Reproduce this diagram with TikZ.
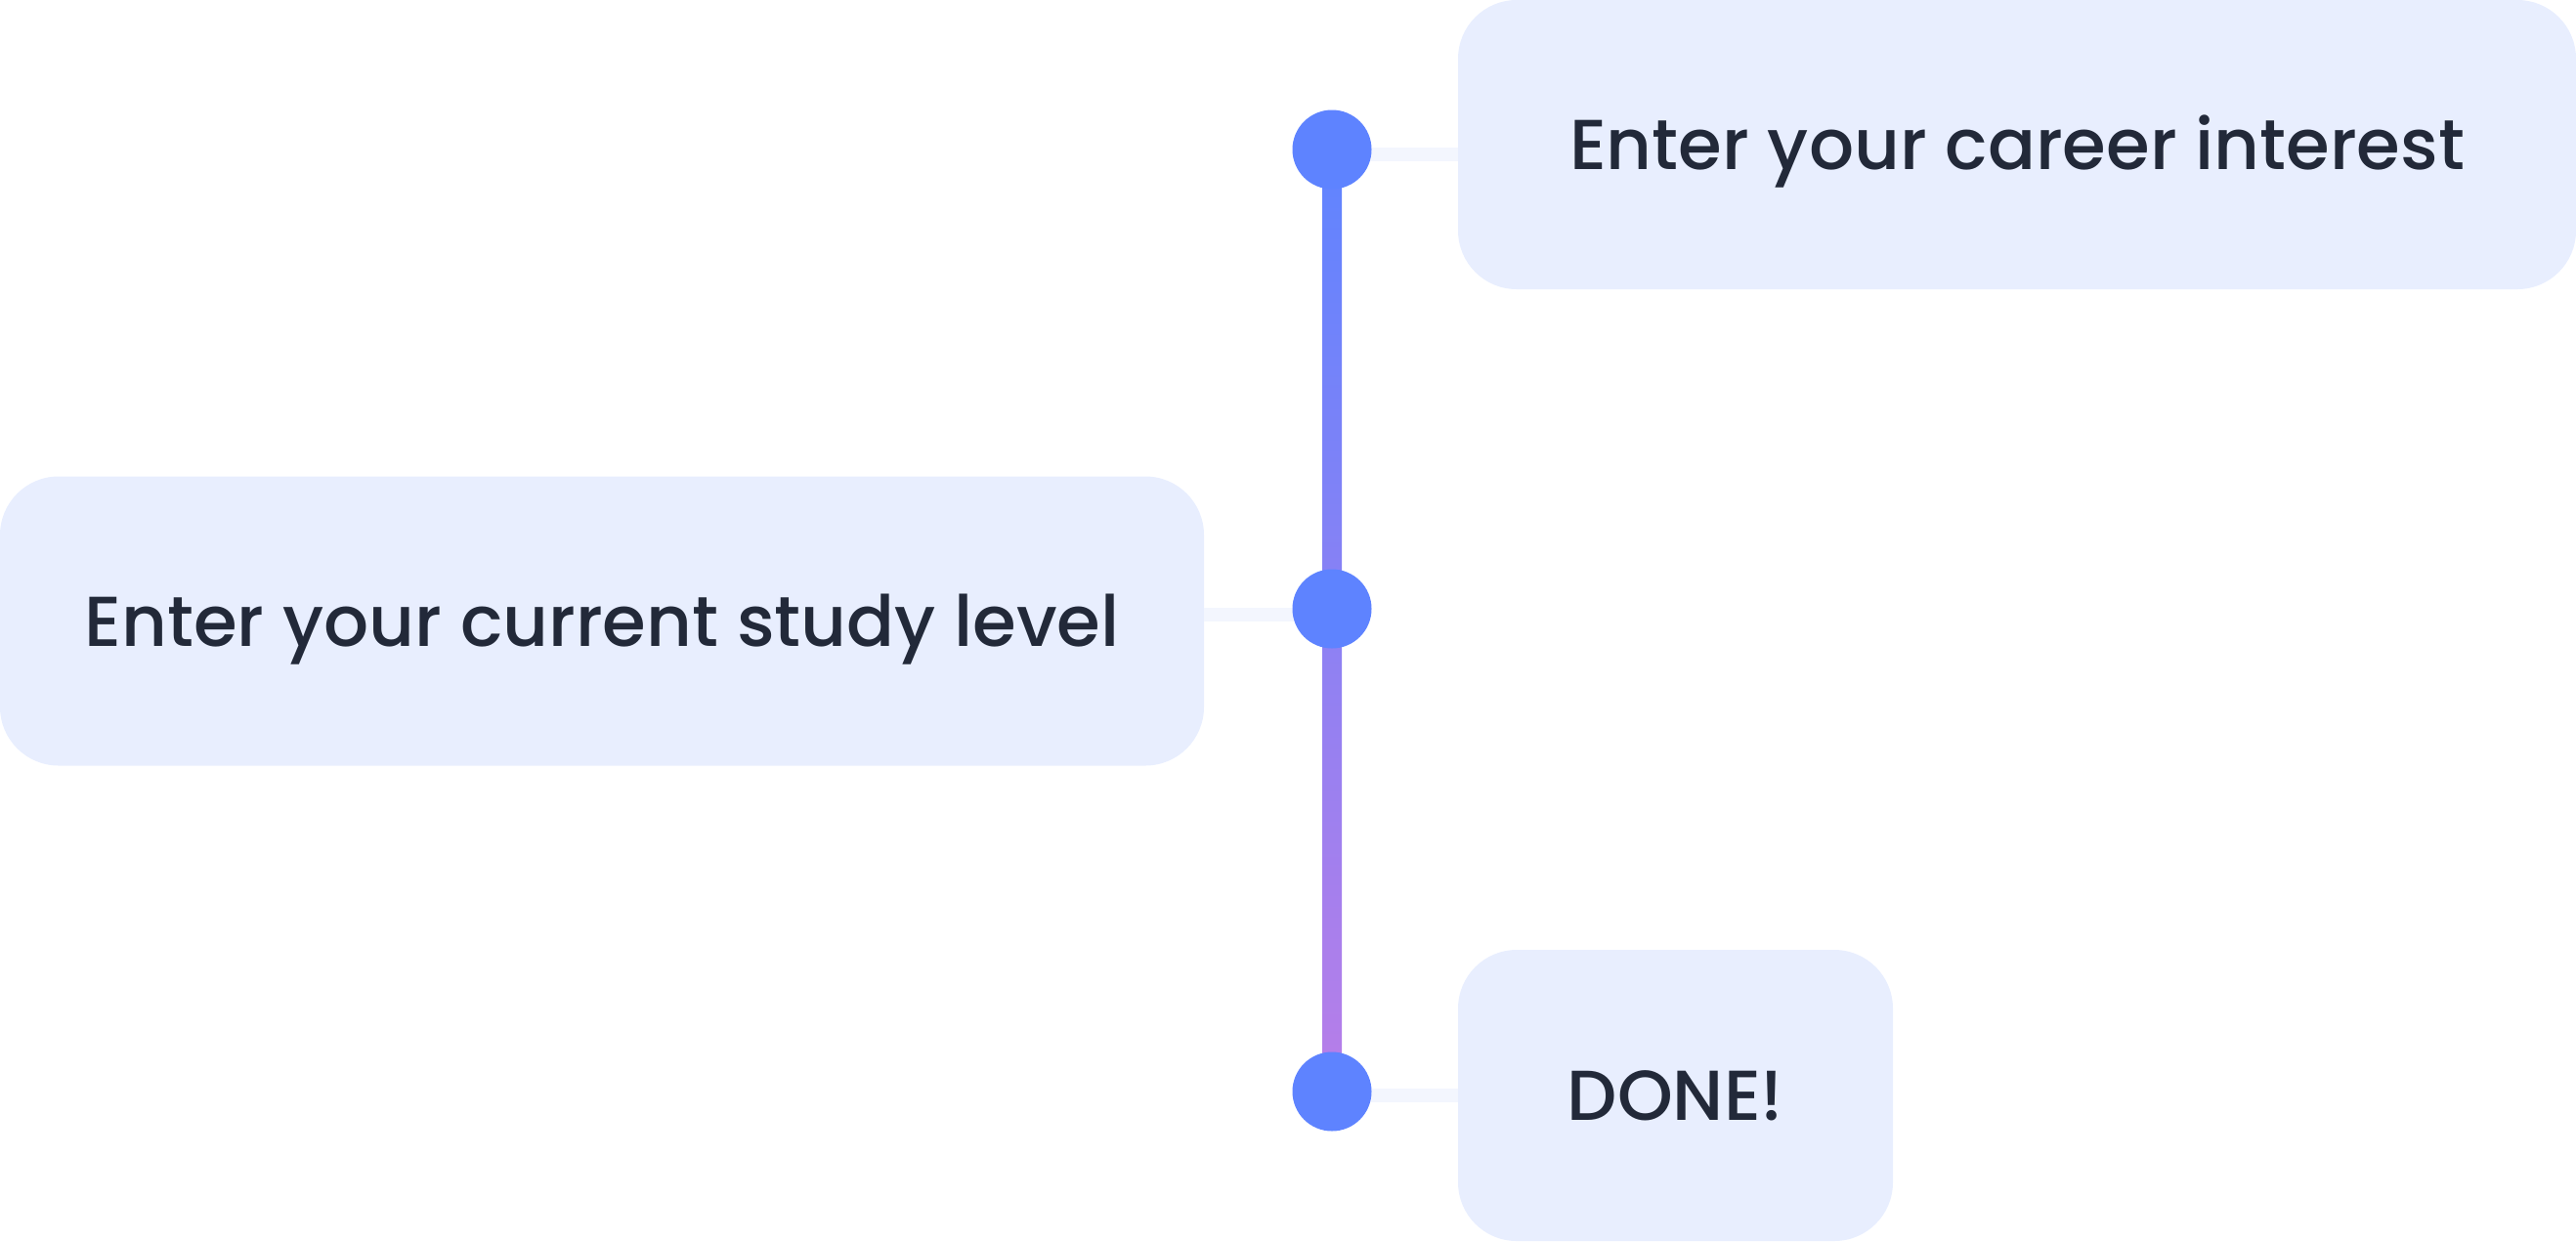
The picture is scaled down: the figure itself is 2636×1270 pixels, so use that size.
\documentclass[tikz,border=0pt]{standalone}
\usepackage{fontspec}
\setmainfont{Poppins}[UprightFont=* Medium]
\definecolor{boxfill}{HTML}{E8EEFE}
\definecolor{dotc}{HTML}{5E83FF}
\definecolor{linetop}{HTML}{5F84FF}
\definecolor{linebot}{HTML}{B87EE8}
\definecolor{conn}{HTML}{F3F6FE}
\definecolor{txt}{HTML}{222939}
\begin{document}
\begin{tikzpicture}[x=1pt,y=-1pt,
  stepbox/.style={fill=boxfill, rounded corners=60pt, inner sep=0pt, text=txt,
    font=\fontsize{72.3}{80}\selectfont, text height=51pt, text depth=0pt, anchor=center},
  dot/.style={circle, fill=dotc, minimum size=81pt, inner sep=0pt},
  link/.style={conn, line width=14pt}]
\useasboundingbox (0,0) rectangle (2636,1270);
% boxes
\node[stepbox, minimum width=1144pt, minimum height=296pt] (top) at (2064,148) {Enter your career interest};
\node[stepbox, minimum width=1232pt, minimum height=296pt] (mid) at (616,635.5) {Enter your current study level};
\node[stepbox, minimum width=445pt, minimum height=298pt] (bot) at (1714.5,1121) {DONE!};
% dot coordinates
\coordinate (p1) at (1363,153);
\coordinate (p2) at (1363,623);
\coordinate (p3) at (1363,1117);
% connectors
\draw[link] ([yshift=-5pt]p1) -- ([yshift=-5pt]p1 -| top.west);
\draw[link] ([yshift=-6pt]p2) -- ([yshift=-6pt]p2 -| mid.east);
\draw[link] ([yshift=-4pt]p3) -- ([yshift=-4pt]p3 -| bot.west);
% vertical gradient line
\shade[top color=linetop, bottom color=linebot] ([xshift=-10pt]p1) rectangle ([xshift=10pt]p3);
% dots
\node[dot] (c1) at (p1) {};
\node[dot] (c2) at (p2) {};
\node[dot] (c3) at (p3) {};
\end{tikzpicture}
\end{document}
